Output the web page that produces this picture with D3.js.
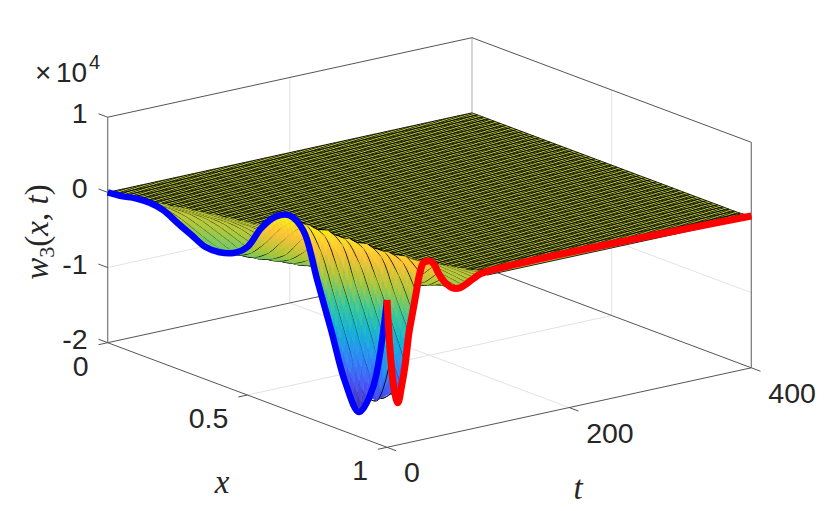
<!DOCTYPE html>
<html>
<head>
<meta charset="utf-8">
<script src="https://cdnjs.cloudflare.com/ajax/libs/d3/7.8.5/d3.min.js"></script>
<style>
  html, body { margin: 0; padding: 0; background: #fff; }
  text { font-family: "Liberation Sans", Arial, sans-serif; font-size: 28.5px; fill: #262626; }
  .math { font-family: "Liberation Serif", serif; font-style: italic; font-size: 33px; }
</style>
</head>
<body>
<div id="chart"></div>
<script>
// values (z is in units of 10^4)
var xNodes = [0, .05, .1, .15, .2, .25, .3, .35, .4, .45, .5, .55, .6, .65, .7, .75, .8, .85, .9, .95, 1];
var tNodes = [0, 4, 8, 12, 16, 20, 24, 28, 32, 36, 40, 44, 48, 52, 56, 60, 64, 72, 80, 88, 96, 104, 400];

var zRows = [
  [0, .02, .06, .07, .04, -.06, -.15, -.24, -.24, -.18, -.03, .29, .51, .60, .47, -.12, -.72, -1.34, -1.67, -1.27, -.04],
  [0, 0, .02, .04, .03, -.02, -.10, -.18, -.23, -.22, -.12, .08, .33, .52, .52, .24, -.32, -.89, -1.42, -1.46, -.82],
  [0, 0, 0, .02, .03, .01, -.05, -.12, -.20, -.23, -.19, -.06, .17, .39, .50, .44, .03, -.50, -1.08, -1.44, -1.27],
  [0, 0, 0, 0, .02, .03, 0, -.07, -.14, -.22, -.22, -.15, -.02, .23, .43, .50, .38, -.12, -.64, -1.21, -1.44],
  [0, 0, 0, 0, .01, .02, .02, -.02, -.09, -.16, -.21, -.19, -.10, .07, .29, .44, .44, .18, -.31, -.81, -1.23],
  [0, 0, 0, 0, 0, .01, .02, .01, -.05, -.11, -.18, -.20, -.16, -.05, .14, .34, .44, .38, .01, -.45, -.95],
  [0, 0, 0, 0, 0, 0, .01, .02, 0, -.06, -.12, -.19, -.19, -.13, -.01, .19, .37, .43, .33, -.11, -.55],
  [0, 0, 0, 0, 0, 0, .01, .02, .01, -.02, -.08, -.14, -.18, -.16, -.08, .06, .26, .37, .38, .14, -.29],
  [0, 0, 0, 0, 0, 0, 0, .01, .02, .01, -.04, -.09, -.15, -.17, -.13, -.04, .13, .29, .37, .31, -.03],
  [0, 0, 0, 0, 0, 0, 0, 0, .01, .02, 0, -.05, -.10, -.16, -.17, -.11, -.01, .17, .32, .37, .22],
  [0, 0, 0, 0, 0, 0, 0, 0, .01, .01, .01, -.02, -.07, -.12, -.15, -.14, -.07, .06, .23, .33, .35],
  [0, 0, 0, 0, 0, 0, 0, 0, 0, .01, .02, 0, -.04, -.08, -.13, -.15, -.11, -.03, .12, .27, .36],
  [0, 0, 0, 0, 0, 0, 0, 0, 0, 0, .01, .01, -.01, -.05, -.09, -.14, -.14, -.09, .01, .18, .35],
  [0, 0, 0, 0, 0, 0, 0, 0, 0, 0, .01, .01, .01, -.02, -.06, -.11, -.13, -.11, -.05, .08, .29],
  [0, 0, 0, 0, 0, 0, 0, 0, 0, 0, 0, .01, .01, 0, -.03, -.07, -.12, -.13, -.10, -.02, .18],
  [0, 0, 0, 0, 0, 0, 0, 0, 0, 0, 0, 0, .01, .01, -.01, -.04, -.08, -.12, -.12, -.07, .09],
  [0, 0, 0, 0, 0, 0, 0, 0, 0, 0, 0, 0, 0, .01, .01, -.02, -.05, -.09, -.11, -.08, .02],
  [0, 0, 0, 0, 0, 0, 0, 0, 0, 0, 0, 0, 0, 0, .01, .01, -.01, -.04, -.07, -.09, -.07],
  [0, 0, 0, 0, 0, 0, 0, 0, 0, 0, 0, 0, 0, 0, 0, .01, .01, 0, -.03, -.06, -.09],
  [0, 0, 0, 0, 0, 0, 0, 0, 0, 0, 0, 0, 0, 0, 0, 0, 0, .01, 0, -.02, -.05],
  [0, 0, 0, 0, 0, 0, 0, 0, 0, 0, 0, 0, 0, 0, 0, 0, 0, 0, .01, .01, 0],
  [0, 0, 0, 0, 0, 0, 0, 0, 0, 0, 0, 0, 0, 0, 0, 0, 0, 0, 0, .01, .04],
  [0, 0, 0, 0, 0, 0, 0, 0, 0, 0, 0, 0, 0, 0, 0, 0, 0, 0, 0, 0, .02]
];

// where the dense mesh of the flat sheet begins
var frontX = [0, .167, .508, .83, .983, 1];
var frontT = [0, 17, 55, 88, 108, 110];

var xTicks = [0, .5, 1];
var tTicks = [0, 200, 400];
var zTicks = [-2, -1, 0, 1];
var parula = ["#3e2aa8", "#4752f4", "#2d87f7", "#12b1d6", "#37c897", "#abc739", "#fec338", "#f9fb14"];

var svgWidth = 830;
var svgHeight = 511;

var svg = d3.select("#chart")
  .append("svg")
  .attr("width", svgWidth)
  .attr("height", svgHeight)
  .style("display", "block");

// oblique projection of the 3d box, one scale per screen contribution
var xToPx = d3.scaleLinear().domain([0, 1]).range([0, 279.3]);
var xToPy = d3.scaleLinear().domain([0, 1]).range([0, 104.6]);
var tToPx = d3.scaleLinear().domain([0, 400]).range([0, 364.3]);
var tToPy = d3.scaleLinear().domain([0, 400]).range([0, -79.5]);
var zToPy = d3.scaleLinear().domain([-2, 1]).range([0, -225.5]);

function px(x, t) { return 107.7 + xToPx(x) + tToPx(t); }
function py(x, t, z) { return 342.7 + xToPy(x) + tToPy(t) + zToPy(z); }
function pt(x, t, z) { return [px(x, t), py(x, t, z)]; }

var zMin = d3.min(zRows, function(r) { return d3.min(r); });
var zMax = d3.max(zRows, function(r) { return d3.max(r); });
var colorDomain = d3.range(parula.length).map(function(i) {
  return zMin + (zMax - zMin) * i / (parula.length - 1);
});
var color = d3.scaleLinear().domain(colorDomain).range(parula).clamp(true);
var frontScale = d3.scaleLinear().domain(frontX).range(frontT);

// bilinear lookup in the table
function zAt(x, t) {
  var i = Math.min(d3.bisectRight(xNodes, x) - 1, xNodes.length - 2);
  var j = Math.min(d3.bisectRight(tNodes, t) - 1, tNodes.length - 2);
  var u = (x - xNodes[i]) / (xNodes[i + 1] - xNodes[i]);
  var v = (t - tNodes[j]) / (tNodes[j + 1] - tNodes[j]);
  var a = zRows[j][i] * (1 - u) + zRows[j][i + 1] * u;
  var b = zRows[j + 1][i] * (1 - u) + zRows[j + 1][i + 1] * u;
  return a * (1 - v) + b * v;
}

var line = d3.line().curve(d3.curveCatmullRom);

function seg(g, a, b, stroke, width) {
  g.append("path")
    .attr("d", d3.line()([a, b]))
    .attr("fill", "none")
    .attr("stroke", stroke)
    .attr("stroke-width", width);
}

// grid on the walls and the floor
var grid = svg.append("g");
var gridColor = "#e3e3e3";
xTicks.slice(1, 2).forEach(function(x) {
  seg(grid, pt(x, 0, -2), pt(x, 400, -2), gridColor, 1);
  seg(grid, pt(x, 400, -2), pt(x, 400, 1), gridColor, 1);
});
tTicks.slice(1, 2).forEach(function(t) {
  seg(grid, pt(0, t, -2), pt(1, t, -2), gridColor, 1);
  seg(grid, pt(0, t, -2), pt(0, t, 1), gridColor, 1);
});
zTicks.slice(1, 3).forEach(function(z) {
  seg(grid, pt(0, 0, z), pt(0, 400, z), gridColor, 1);
  seg(grid, pt(0, 400, z), pt(1, 400, z), gridColor, 1);
});
seg(grid, pt(0, 400, -2), pt(0, 400, 1), "#c4c4c4", 1.4);

// box and axes
var boxColor = "#555";
var box = svg.append("g");
seg(box, pt(0, 0, -2), pt(0, 0, 1), "#777", 1.2);
seg(box, pt(1, 400, -2), pt(1, 400, 1), "#777", 1.2);
seg(box, pt(0, 0, 1), pt(0, 400, 1), boxColor, 1);
seg(box, pt(0, 400, 1), pt(1, 400, 1), boxColor, 1);
seg(box, pt(0, 0, -2), pt(0, 400, -2), boxColor, 1);
seg(box, pt(0, 400, -2), pt(1, 400, -2), boxColor, 1);
seg(box, pt(0, 0, -2), pt(1, 0, -2), boxColor, 1);
seg(box, pt(1, 0, -2), pt(1, 400, -2), boxColor, 1);

// ticks and their labels
zTicks.forEach(function(z) {
  seg(box, pt(0, 0, z), pt(-.033, 0, z), boxColor, 1);
  svg.append("text")
    .attr("x", px(0, 0) - 20)
    .attr("y", py(0, 0, z) + 6)
    .attr("text-anchor", "end")
    .text(z);
});
xTicks.forEach(function(x) {
  seg(box, pt(x, 0, -2), pt(x, -10, -2), boxColor, 1);
  svg.append("text")
    .attr("x", px(x, 0) - 19)
    .attr("y", py(x, 0, -2) + 33)
    .attr("text-anchor", "end")
    .text(x);
});
tTicks.forEach(function(t) {
  seg(box, pt(1, t, -2), pt(1.033, t, -2), boxColor, 1);
  svg.append("text")
    .attr("x", px(1, t) + 17)
    .attr("y", py(1, t, -2) + 35)
    .text(t);
});

// surface, painted from the far corner to the near one
var surface = svg.append("g");
var cellStep = .0125;
var xCells = d3.range(0, 1, cellStep);
var xMesh = d3.range(0, 1.0001, .02);
var meshWidth = 0.85;
var tEnd = 400;

function cell(x0, x1, t0, t1) {
  var z00 = zAt(x0, t0), z10 = zAt(x1, t0), z01 = zAt(x0, t1), z11 = zAt(x1, t1);
  var c = color((z00 + z10 + z01 + z11) / 4);
  surface.append("path")
    .attr("d", d3.line()([pt(x0, t0, z00), pt(x1, t0, z10), pt(x1, t1, z11), pt(x0, t1, z01)]) + "Z")
    .attr("fill", c)
    .attr("stroke", c)
    .attr("stroke-width", .5);
}

function rowLine(t, nodes) {
  surface.append("path")
    .attr("d", line(nodes.map(function(x) { return pt(x, t, zAt(x, t)); })))
    .attr("fill", "none")
    .attr("stroke", "#000")
    .attr("stroke-width", meshWidth);
}

// flat sheet behind the wave front, with its dense mesh
var frontEdge = xMesh.map(function(x) { return pt(x, frontScale(x), 0); });
surface.append("path")
  .attr("d", d3.line()(frontEdge.concat([pt(1, tEnd, 0), pt(0, tEnd, 0)])) + "Z")
  .attr("fill", color(0));
d3.range(tEnd, 0, -4).forEach(function(t) { rowLine(t, xNodes); });
surface.append("path")
  .attr("d", xMesh.map(function(x) {
    return d3.line()([pt(x, frontScale(x), 0), pt(x, tEnd, 0)]);
  }).join(""))
  .attr("fill", "none")
  .attr("stroke", "#000")
  .attr("stroke-width", meshWidth);

// strips of the wave in front of it, these also hide what the ridge covers
d3.range(112, 0, -4).forEach(function(t1) {
  [t1 - 2, t1 - 4].forEach(function(t0) {
    xCells.forEach(function(x0) {
      if (frontScale(x0 + cellStep) >= t0) cell(x0, x0 + cellStep, t0, t0 + 2);
    });
  });
  var t0 = t1 - 4;
  var nodes = xNodes.filter(function(x) { return frontScale(x + .05) >= t0; });
  if (nodes.length > 1) rowLine(t0, nodes);
});

// the two thick boundary curves
svg.append("path")
  .attr("d", line(xNodes.map(function(x, i) { return pt(x, 0, zRows[0][i]); })))
  .attr("fill", "none")
  .attr("stroke", "#0000ff")
  .attr("stroke-width", 6.5)
  .attr("stroke-linejoin", "round");

svg.append("path")
  .attr("d", line(tNodes.map(function(t, j) { return pt(1, t, zRows[j][xNodes.length - 1]); })))
  .attr("fill", "none")
  .attr("stroke", "#ff0000")
  .attr("stroke-width", 7)
  .attr("stroke-linejoin", "round");

// labels
svg.append("text").attr("x", 35).attr("y", 82).style("font-size", "28px").text("×");
svg.append("text").attr("x", 56).attr("y", 82).style("font-size", "28px").text("10");
svg.append("text").attr("x", 89).attr("y", 69).style("font-size", "20px").text("4");

var zLabel = svg.append("text")
  .attr("class", "math")
  .attr("transform", "translate(48,232) rotate(-90)")
  .attr("text-anchor", "middle");
zLabel.append("tspan").text("w");
zLabel.append("tspan").attr("dy", 6).style("font-size", "22px").style("font-style", "normal").text("3");
zLabel.append("tspan").attr("dy", -6).style("font-style", "normal").text("(");
zLabel.append("tspan").text("x, t");
zLabel.append("tspan").style("font-style", "normal").text(")");

svg.append("text").attr("class", "math").attr("x", 222).attr("y", 493).attr("text-anchor", "middle").text("x");
svg.append("text").attr("class", "math").attr("x", 578).attr("y", 499).attr("text-anchor", "middle").text("t");
</script>
</body>
</html>
